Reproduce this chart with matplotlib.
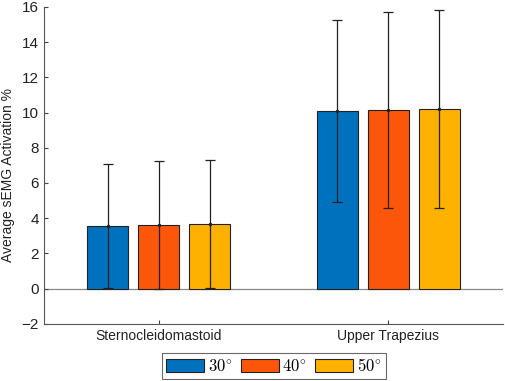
import numpy as np
import matplotlib
matplotlib.use('Agg')
from matplotlib import pyplot as plt

plt.rcParams['font.family'] = ['Liberation Sans', 'DejaVu Sans']
plt.rcParams['mathtext.fontset'] = 'cm'

muscles = ['Sternocleidomastoid', 'Upper Trapezius']
angles = [r'$30^{\circ}$', r'$40^{\circ}$', r'$50^{\circ}$']
means = [[3.55, 10.10],
         [3.62, 10.15],
         [3.66, 10.20]]
stds = [[3.50, 5.17],
        [3.65, 5.55],
        [3.62, 5.62]]
colors = ['#0072BD', '#FC560A', '#FFB100']

fig = plt.figure(figsize=(5.05, 3.81), dpi=100)
ax = fig.add_axes([0.087, 0.15, 0.909, 0.832])

x = np.arange(1, len(muscles) + 1)
width = 0.178
step = 0.222
handles = []
for i in range(len(angles)):
    pos = x + (i - 1) * step
    h = ax.bar(pos, means[i], width, color=colors[i], edgecolor='#222222',
               linewidth=0.8, label=angles[i], zorder=2)
    ax.errorbar(pos, means[i], yerr=stds[i], fmt='.', color='#222222',
                markersize=3, elinewidth=0.9, capsize=3.5, capthick=0.9,
                zorder=3)
    handles.append(h)

ax.axhline(0, color='#888888', linewidth=0.9, zorder=1)
ax.set_xlim(0.5, 2.5)
ax.set_ylim(-2, 16)
ax.set_yticks(np.arange(-2, 17, 2))
ax.set_xticks(x)
ax.set_xticklabels(muscles, fontsize=10)
ax.tick_params(axis='both', direction='in', length=3, color='#444444',
               labelcolor='#222222')
ax.tick_params(axis='y', labelsize=11)
ax.set_ylabel('Average sEMG Activation %', fontsize=10, color='#222222')
ax.yaxis.set_label_coords(-0.063, 0.47)
for side in ['top', 'right']:
    ax.spines[side].set_visible(False)
for side in ['left', 'bottom']:
    ax.spines[side].set_color('#555555')
    ax.spines[side].set_linewidth(0.8)

leg = fig.legend(handles=handles, labels=angles, loc='lower center',
                 bbox_to_anchor=(0.542, 0.0), ncol=3, fontsize=12,
                 frameon=True, fancybox=False, handlelength=2.3,
                 handleheight=0.75, handletextpad=0.2, columnspacing=0.5,
                 borderpad=0.25, borderaxespad=0.15)
leg.get_frame().set_edgecolor('#444444')
leg.get_frame().set_linewidth(0.8)

fig.savefig('out.png', dpi=100)
